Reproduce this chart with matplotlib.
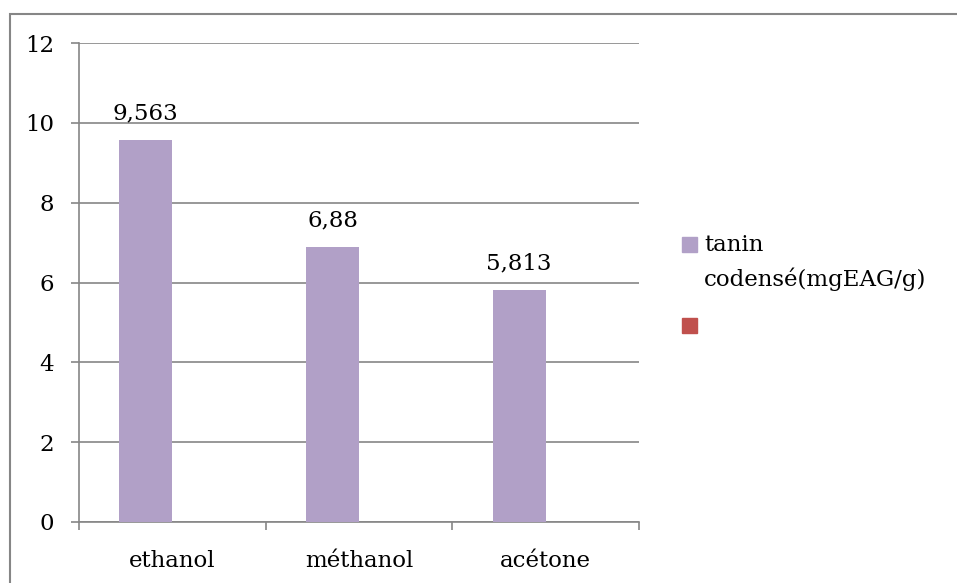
import matplotlib
matplotlib.use("Agg")
import matplotlib.pyplot as plt
from matplotlib.patches import Rectangle

categories = ["ethanol", "méthanol", "acétone"]
tanin_values = [9.563, 6.88, 5.813]
series_names = ["tanin\ncodensé(mgEAG/g)", ""]
y_ticks = [0, 2, 4, 6, 8, 10, 12]

W, H = 957, 583
plt.rcParams["font.family"] = ["DejaVu Serif"]
fig = plt.figure(figsize=(W / 100, H / 100), dpi=100)
ax = fig.add_axes([79 / W, 1 - 522 / H, (639 - 79) / W, (522 - 43) / H])

grey = "#868686"
purple = "#B1A0C7"
red = "#C0504D"
fs = 16.5

bw = 0.284
xs = [i - bw / 2 for i in range(len(categories))]
ax.bar(xs, tanin_values, width=bw, color=purple, zorder=3)
for x, v in zip(xs, tanin_values):
    ax.text(x, v + 0.4, f"{v:g}".replace(".", ","), ha="center", va="bottom",
            fontsize=fs, color="black")

ax.set_xlim(-0.5, len(categories) - 0.5)
ax.set_ylim(0, 12)
ax.set_yticks(y_ticks)
ax.set_yticklabels([str(t) for t in y_ticks], fontsize=fs)
ax.yaxis.grid(True, color=grey, linewidth=1.2, zorder=0)
ax.tick_params(axis="y", length=6, width=1.2, color=grey, pad=12)

ax.set_xticks([i - 0.5 for i in range(len(categories) + 1)])
ax.set_xticklabels([])
ax.tick_params(axis="x", which="major", length=6, width=1.2, color=grey)
ax.set_xticks(range(len(categories)), minor=True)
ax.set_xticklabels(categories, minor=True, fontsize=fs)
ax.tick_params(axis="x", which="minor", length=0, pad=20)

for s in ["top", "right"]:
    ax.spines[s].set_visible(False)
for s in ["left", "bottom"]:
    ax.spines[s].set_color(grey)
    ax.spines[s].set_linewidth(1.2)

# legend drawn by hand on the right
def px(x, y):
    return x / W, 1 - y / H

for (ytop, col), name in zip([(237, purple), (318, red)], series_names):
    fig.add_artist(Rectangle(px(682, ytop + 15), 15 / W, 15 / H,
                             transform=fig.transFigure, color=col))
    if name:
        fig.text(*px(704, 234), name, fontsize=fs, va="top", ha="left",
                 linespacing=1.6)

# outer frame
fig.add_artist(Rectangle(px(10, 600), 1.0, (600 - 14) / H,
                         transform=fig.transFigure, fill=False,
                         edgecolor=grey, linewidth=1.5, clip_on=False))

fig.savefig("out.png", dpi=100)
